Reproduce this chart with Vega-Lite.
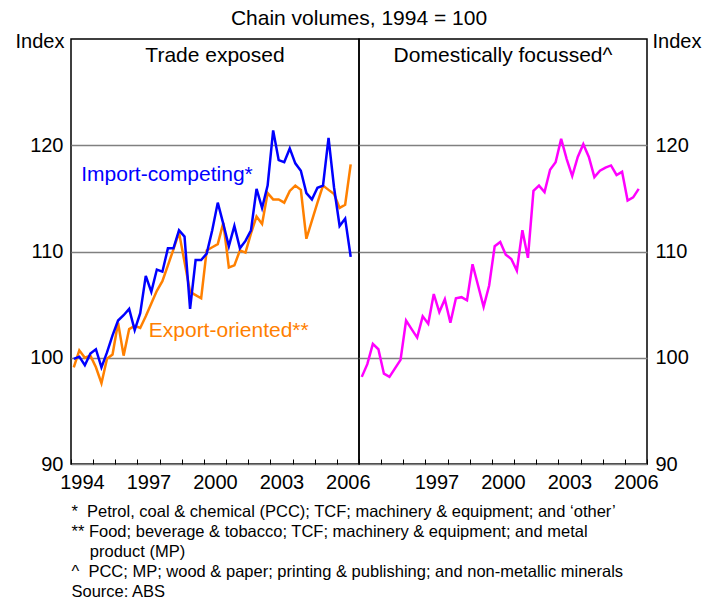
{
  "$schema": "https://vega.github.io/schema/vega-lite/v6.json",
  "background": "white",
  "padding": {"left": 14, "top": 8, "right": 5, "bottom": 5},
  "bounds": "flush",
  "spacing": 0,
  "title": {"text": "Chain volumes, 1994 = 100", "fontSize": 21, "fontWeight": "normal", "font": "Liberation Sans", "color": "black", "anchor": "start", "align": "center", "dx": 288, "frame": "group", "offset": 1},
  "config": {
    "font": "Liberation Sans",
    "view": {"stroke": "black", "strokeWidth": 1.5},
    "concat": {"spacing": 0},
    "axis": {"labelFont": "Liberation Sans", "titleFont": "Liberation Sans", "labelColor": "black", "titleColor": "black", "labelFontSize": 20, "titleFontSize": 20, "titleFontWeight": "normal", "domain": false, "gridColor": "#808080", "gridWidth": 1.5, "labelOverlap": false}
  },
  "datasets": {
    "q": [
      {"t": 1994.125, "imp": 99.9, "exp": 99.1, "dom": 98.2},
      {"t": 1994.375, "imp": 100.1, "exp": 100.7, "dom": 99.4},
      {"t": 1994.625, "imp": 99.3, "exp": 100.0, "dom": 101.3},
      {"t": 1994.875, "imp": 100.4, "exp": 100.2, "dom": 100.8},
      {"t": 1995.125, "imp": 100.8, "exp": 99.1, "dom": 98.5},
      {"t": 1995.375, "imp": 99.1, "exp": 97.6, "dom": 98.2},
      {"t": 1995.625, "imp": 100.5, "exp": 99.9, "dom": 99.0},
      {"t": 1995.875, "imp": 102.1, "exp": 100.3, "dom": 99.8},
      {"t": 1996.125, "imp": 103.5, "exp": 103.3, "dom": 103.5},
      {"t": 1996.375, "imp": 104.0, "exp": 100.2, "dom": 102.7},
      {"t": 1996.625, "imp": 104.6, "exp": 102.7, "dom": 101.9},
      {"t": 1996.875, "imp": 102.6, "exp": 103.0, "dom": 103.9},
      {"t": 1997.125, "imp": 104.2, "exp": 102.8, "dom": 103.2},
      {"t": 1997.375, "imp": 107.7, "exp": 103.9, "dom": 106.0},
      {"t": 1997.625, "imp": 106.2, "exp": 105.1, "dom": 104.3},
      {"t": 1997.875, "imp": 108.3, "exp": 106.3, "dom": 105.5},
      {"t": 1998.125, "imp": 108.1, "exp": 107.2, "dom": 103.3},
      {"t": 1998.375, "imp": 110.3, "exp": 108.7, "dom": 105.6},
      {"t": 1998.625, "imp": 110.3, "exp": 110.2, "dom": 105.7},
      {"t": 1998.875, "imp": 112.0, "exp": 111.8, "dom": 105.4},
      {"t": 1999.125, "imp": 111.4, "exp": 109.0, "dom": 108.8},
      {"t": 1999.375, "imp": 104.6, "exp": 106.2, "dom": 106.8},
      {"t": 1999.625, "imp": 109.2, "exp": 105.9, "dom": 104.8},
      {"t": 1999.875, "imp": 109.2, "exp": 105.6, "dom": 106.8},
      {"t": 2000.125, "imp": 109.8, "exp": 110.1, "dom": 110.5},
      {"t": 2000.375, "imp": 112.0, "exp": 110.4, "dom": 110.9},
      {"t": 2000.625, "imp": 114.6, "exp": 110.7, "dom": 109.7},
      {"t": 2000.875, "imp": 112.6, "exp": 112.7, "dom": 109.3},
      {"t": 2001.125, "imp": 110.5, "exp": 108.5, "dom": 108.2},
      {"t": 2001.375, "imp": 112.4, "exp": 108.7, "dom": 112.0},
      {"t": 2001.625, "imp": 110.3, "exp": 110.1, "dom": 109.4},
      {"t": 2001.875, "imp": 111.0, "exp": 109.9, "dom": 115.7},
      {"t": 2002.125, "imp": 112.0, "exp": 111.7, "dom": 116.2},
      {"t": 2002.375, "imp": 115.9, "exp": 113.3, "dom": 115.6},
      {"t": 2002.625, "imp": 114.1, "exp": 112.6, "dom": 117.7},
      {"t": 2002.875, "imp": 116.2, "exp": 115.5, "dom": 118.4},
      {"t": 2003.125, "imp": 121.4, "exp": 114.9, "dom": 120.6},
      {"t": 2003.375, "imp": 118.6, "exp": 114.9, "dom": 118.7},
      {"t": 2003.625, "imp": 118.4, "exp": 114.6, "dom": 117.1},
      {"t": 2003.875, "imp": 119.7, "exp": 115.7, "dom": 118.9},
      {"t": 2004.125, "imp": 118.3, "exp": 116.2, "dom": 120.1},
      {"t": 2004.375, "imp": 117.6, "exp": 115.8, "dom": 118.9},
      {"t": 2004.625, "imp": 115.5, "exp": 111.2, "dom": 117.0},
      {"t": 2004.875, "imp": 114.9, "exp": 112.9, "dom": 117.6},
      {"t": 2005.125, "imp": 116.0, "exp": 114.6, "dom": 117.9},
      {"t": 2005.375, "imp": 116.2, "exp": 116.2, "dom": 118.1},
      {"t": 2005.625, "imp": 120.7, "exp": 115.8, "dom": 117.2},
      {"t": 2005.875, "imp": 116.0, "exp": 115.4, "dom": 117.5},
      {"t": 2006.125, "imp": 112.4, "exp": 114.1, "dom": 114.8},
      {"t": 2006.375, "imp": 113.1, "exp": 114.4, "dom": 115.1},
      {"t": 2006.625, "imp": 109.5, "exp": 118.2, "dom": 115.9}
    ],
    "labels": [
      {"t": 1994.46, "v": 117.2, "txt": "Import-competing*", "col": "blue"},
      {"t": 1997.51, "v": 102.5, "txt": "Export-oriented**", "col": "orange"}
    ]
  },
  "hconcat": [
    {
      "width": 288,
      "height": 425,
      "layer": [
        {
          "data": {"name": "q"},
          "mark": {"type": "line", "color": "#FF8000", "strokeWidth": 2.5},
          "encoding": {
            "x": {"field": "t", "type": "quantitative", "scale": {"domain": [1994, 2007], "nice": false, "zero": false},
              "axis": {"values": [1994, 1995, 1996, 1997, 1998, 1999, 2000, 2001, 2002, 2003, 2004, 2005, 2006, 2007], "tickCount": 30, "grid": false, "ticks": true, "tickSize": -5, "tickColor": "black", "tickWidth": 1, "labelOffset": 11, "labelPadding": 13, "labelFlush": false, "labelBound": false, "labelOverlap": false, "labelFontSize": 20,
                "labelExpr": "indexof(['1994','1997','2000','2003','2006'], format(datum.value, 'd')) >= 0 ? format(datum.value, 'd') : ''",
                "title": ["*\u00a0\u00a0Petrol, coal & chemical (PCC); TCF; machinery & equipment; and \u2018other\u2019", "**\u00a0Food; beverage & tobacco; TCF; machinery & equipment; and metal", "\u200b\u00a0\u00a0\u00a0\u00a0product (MP)", "^\u00a0\u00a0PCC; MP; wood & paper; printing & publishing; and non-metallic minerals", "Source: ABS"],
                "titleFontSize": 16.5, "titleAlign": "left", "titleAnchor": "start", "titleBaseline": "top", "titleX": 0, "titleY": 39, "titleLineHeight": 20}},
            "y": {"field": "exp", "type": "quantitative", "scale": {"domain": [90, 130], "nice": false, "zero": false},
              "axis": {"values": [90, 100, 110, 120], "ticks": false, "labelPadding": 8, "grid": true, "labelFlush": false,
                "title": "Index", "titleAngle": 0, "titleAlign": "right", "titleBaseline": "middle", "titleX": -7, "titleY": 2}}
          }
        },
        {
          "data": {"name": "q"},
          "mark": {"type": "line", "color": "#0000FF", "strokeWidth": 2.5},
          "encoding": {
            "x": {"field": "t", "type": "quantitative"},
            "y": {"field": "imp", "type": "quantitative"}
          }
        },
        {
          "data": {"name": "labels"},
          "mark": {"type": "text", "align": "left", "baseline": "middle", "fontSize": 21},
          "encoding": {
            "x": {"field": "t", "type": "quantitative"},
            "y": {"field": "v", "type": "quantitative"},
            "text": {"field": "txt"},
            "color": {"field": "col", "type": "nominal", "scale": {"domain": ["blue", "orange"], "range": ["#0000FF", "#FF8000"]}, "legend": null}
          }
        },
        {
          "data": {"values": [{"t": 2000.5, "v": 128.4, "txt": "Trade exposed"}]},
          "mark": {"type": "text", "align": "center", "baseline": "middle", "fontSize": 21, "color": "black"},
          "encoding": {
            "x": {"field": "t", "type": "quantitative"},
            "y": {"field": "v", "type": "quantitative"},
            "text": {"field": "txt"}
          }
        }
      ]
    },
    {
      "width": 288,
      "height": 425,
      "layer": [
        {
          "data": {"name": "q"},
          "mark": {"type": "line", "color": "#FF00FF", "strokeWidth": 2.5},
          "encoding": {
            "x": {"field": "t", "type": "quantitative", "scale": {"domain": [1994, 2007], "nice": false, "zero": false},
              "axis": {"values": [1994, 1995, 1996, 1997, 1998, 1999, 2000, 2001, 2002, 2003, 2004, 2005, 2006, 2007], "tickCount": 30, "grid": false, "ticks": true, "tickSize": -5, "tickColor": "black", "tickWidth": 1, "labelOffset": 11, "labelPadding": 13, "labelFlush": false, "labelBound": false, "labelOverlap": false, "labelFontSize": 20,
                "labelExpr": "indexof(['1997','2000','2003','2006'], format(datum.value, 'd')) >= 0 ? format(datum.value, 'd') : ''",
                "title": null}},
            "y": {"field": "dom", "type": "quantitative", "scale": {"domain": [90, 130], "nice": false, "zero": false},
              "axis": {"orient": "right", "values": [90, 100, 110, 120], "ticks": false, "labelPadding": 8, "grid": true, "labelFlush": false,
                "title": "Index", "titleAngle": 0, "titleAlign": "left", "titleBaseline": "middle", "titleX": 5, "titleY": 2}}
          }
        },
        {
          "data": {"values": [{"t": 2000.5, "v": 128.4, "txt": "Domestically focussed^"}]},
          "mark": {"type": "text", "align": "center", "baseline": "middle", "fontSize": 21, "color": "black"},
          "encoding": {
            "x": {"field": "t", "type": "quantitative"},
            "y": {"field": "v", "type": "quantitative"},
            "text": {"field": "txt"}
          }
        }
      ]
    }
  ]
}
